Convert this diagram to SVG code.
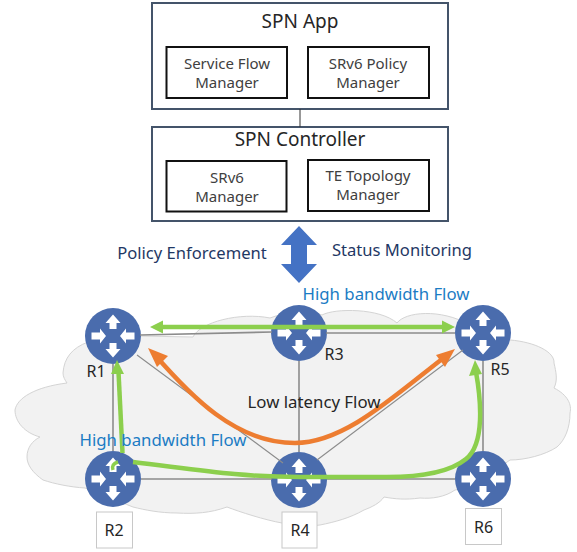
<svg xmlns="http://www.w3.org/2000/svg" width="577" height="552" viewBox="0 0 577 552">
<style>
text{font-family:"Noto Sans","Liberation Sans",sans-serif;text-anchor:middle;fill:#262626}
.outer{fill:#fff;stroke:#44546a;stroke-width:2}
.inner{fill:#fff;stroke:#111;stroke-width:2}
.t1{font-size:19px}
.t2{font-size:15px;fill:#404040}
.t3{font-size:16.600px;fill:#1f3864}
.blue{font-size:16.800px;fill:#1b7cc4}
.rl{font-size:16px}
.box{fill:#fff;stroke:#c8c8c8;stroke-width:1}
.link{fill:none;stroke:#8c8c8c;stroke-width:1.6}
.green{fill:none;stroke:#8ccf4d;stroke-width:4.5}
.orange{fill:none;stroke:#ed7d31;stroke-width:4.5}
.gh{fill:#8ccf4d}
.oh{fill:#ed7d31}
</style>
<defs>
<g id="router">
<circle r="28" fill="#4a6cad"/>
<g fill="#fff">
<path d="M0,-21.500 L7.500,-13 L3.500,-13 L3.500,-7 L-3.500,-7 L-3.500,-13 L-7.500,-13 Z"/>
<path d="M0,21.500 L7.500,13 L3.500,13 L3.500,7 L-3.500,7 L-3.500,13 L-7.500,13 Z"/>
<path d="M-7,0 L-13,-7.500 L-13,-3.500 L-21.500,-3.500 L-21.500,3.500 L-13,3.500 L-13,7.500 Z"/>
<path d="M7,0 L13,-7.500 L13,-3.500 L21.500,-3.500 L21.500,3.500 L13,3.500 L13,7.500 Z"/>
</g>
</g>
</defs>
<rect width="577" height="552" fill="#fff"/>
<path id="cloud" d="M63,373 C64,358 72,348 88,342 L140,336 L193,337 C200,322 240,312 270,318 C285,312 310,310 322,315 C335,308 380,308 397,323 C405,312 440,308 470,325 C480,338 500,338 510,340 C535,342 555,352 554,363 C556,372 558,380 554,388 C568,395 572,405 570,413 C570,428 565,440 557,447 C545,455 525,460 510,460 C495,470 475,488 455,490 C445,497 432,499 420,498 C405,500 395,499 384,497 C380,503 372,507 364,510 C350,518 335,522 320,525 C305,527 292,525 282,523 C265,520 240,512 227,507 C210,513 195,514 177,513 C160,513 145,510 133,507 C115,500 100,493 85,488 C70,487 55,484 43,480 C33,473 27,465 27,457 C27,448 32,441 40,437 C25,433 15,422 15,410 C17,398 35,387 67,383 C65,380 63,377 63,373 Z" fill="#f2f2f2" stroke="#d4d4d4" stroke-width="1"/>

<g id="spn-app">
<rect class="outer" x="152" y="3" width="296" height="106"/>
<text class="t1" x="300" y="28">SPN App</text>
<g id="service-flow-manager"><rect class="inner" x="166.500" y="47" width="120.500" height="51"/>
<text class="t2" x="227" y="69">Service Flow<tspan x="227" dy="19">Manager</tspan></text></g>
<g id="srv6-policy-manager"><rect class="inner" x="308" y="47" width="121" height="51"/>
<text class="t2" x="368" y="69">SRv6 Policy<tspan x="368" dy="19">Manager</tspan></text></g>
</g>
<g id="spn-controller">
<rect class="outer" x="152" y="127" width="296" height="94"/>
<text class="t1" x="300" y="146">SPN Controller</text>
<g id="srv6-manager"><rect class="inner" x="166.500" y="161" width="120" height="50.500"/>
<text class="t2" x="227" y="183">SRv6<tspan x="227" dy="19">Manager</tspan></text></g>
<g id="te-topology-manager"><rect class="inner" x="308" y="160" width="121" height="51"/>
<text class="t2" x="368" y="181">TE Topology<tspan x="368" dy="19">Manager</tspan></text></g>
</g>
<g id="policy-enforcement"><text class="t3" x="192" y="259">Policy Enforcement</text></g>
<g id="status-monitoring"><text class="t3" x="402" y="256">Status Monitoring</text></g>

<g id="R1"><use href="#router" x="113" y="336"/><text class="rl" x="96" y="377">R1</text></g>
<g id="R2"><use href="#router" x="113" y="479"/><rect class="box" x="96.500" y="512" width="36" height="36"/><text class="rl" x="114" y="536">R2</text></g>
<g id="R3"><use href="#router" x="299" y="333"/><text class="rl" x="334" y="360">R3</text></g>
<g id="R4"><use href="#router" x="299" y="480"/><rect class="box" x="282" y="512" width="35" height="36"/><text class="rl" x="300" y="536">R4</text></g>
<g id="R5"><use href="#router" x="483" y="333"/><text class="rl" x="500" y="375">R5</text></g>
<g id="R6"><use href="#router" x="483" y="479"/><rect class="box" x="465.500" y="508.500" width="36" height="36"/><text class="rl" x="483.500" y="533">R6</text></g>

<g id="connectors">
<line class="link" x1="300" y1="109" x2="300" y2="127" style="stroke:#333;stroke-width:1"/>
<path d="M299,226 L317,245 L307,245 L307,264 L317,264 L299,283 L281,264 L291,264 L291,245 L281,245 Z" fill="#4472c4"/>
<path class="link" d="M140,335 L272,332 M326,333 L455,333 M113,364 L113,451 M299,361 L299,452 M141,479 L272,479 M327,479 L455,479 M483,361 L483,451"/>
<path class="link" style="stroke-width:1.100" d="M137,355 L283,463 M463,350 L317,460"/>
<path class="orange" d="M155,355 C190,395 235,443 295,443 C345,443 395,395 446,356"/>
<path class="oh" d="M148,348 L168,356 L157,367 Z"/>
<path class="oh" d="M455,349 L445,367 L436,355 Z"/>
<path class="green" d="M162,327 L443,327"/>
<path class="gh" d="M150,327 L163,320.500 L163,333.500 Z"/>
<path class="gh" d="M455,327 L442,320.500 L442,333.500 Z"/>
<path class="green" d="M122.500,453 L118.500,372"/>
<path class="gh" d="M117,360 L124,374 L111,374 Z"/>
<path class="green" d="M133,462 C200,470 240,477 300,477 L387,477 C420,477 450,472 466,459 C485,444 481,400 476,372"/>
<path class="gh" d="M475,360 L482,374 L469,376 Z"/>
<path d="M113,470 Q111,464 118,462" fill="none" stroke="#8ccf4d" stroke-width="3.500"/>
</g>

<g id="flow-labels">
<text class="blue" x="386" y="300">High bandwidth Flow</text>
<text class="blue" x="163" y="446">High bandwidth Flow</text>
<text style="font-size:16.800px" x="314" y="408">Low latency Flow</text>
</g>
</svg>
